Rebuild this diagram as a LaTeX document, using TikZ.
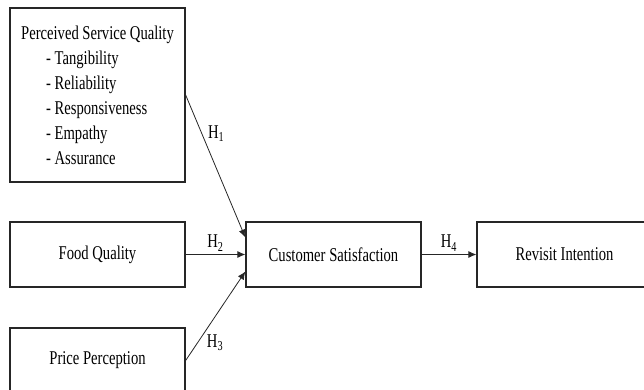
\documentclass[tikz,border=0pt]{standalone}
\usepackage{fontspec}
\setmainfont{Liberation Serif}[FakeStretch=0.75]
\usetikzlibrary{arrows.meta,positioning}

\begin{document}
\begin{tikzpicture}[x=1pt,y=-1pt,
    construct/.style={draw=black!85,line width=1.3pt,minimum width=175pt,minimum height=65pt,inner sep=0pt,font=\fontsize{19.5}{25}\selectfont},
    path/.style={-{Latex[length=8pt,width=7pt]},line width=0.8pt,draw=black!85},
    hyp/.style={font=\fontsize{19.5}{25}\selectfont,inner sep=1pt}]
    \useasboundingbox (0,0) rectangle (644,389);
    %Perceived service quality
    \node[construct,minimum height=174pt,align=left] (psq) at (97.5,95) {Perceived Service Quality\\
        \hspace*{25pt}- Tangibility\\
        \hspace*{25pt}- Reliability\\
        \hspace*{25pt}- Responsiveness\\
        \hspace*{25pt}- Empathy\\
        \hspace*{25pt}- Assurance};
    %Food quality
    \node[construct] (fq) at (97.5,254.5) {Food Quality};
    %Price perception
    \node[construct] (pp) at (97.5,360.5) {Price Perception};
    %Customer satisfaction
    \node[construct] (cs) at (333.5,254.5) {Customer Satisfaction};
    %Revisit intention
    \node[construct] (ri) at (564.5,254.5) {Revisit Intention};
    %Arrows
    \draw[path] (psq.east) -- ([yshift=17pt]cs.west) node[hyp,pos=0.27,right=5pt] {H\textsubscript{1}};
    \draw[path] (fq.east) -- (cs.west) node[hyp,midway,above=2pt] {H\textsubscript{2}};
    \draw[path] (pp.east) -- ([yshift=-17pt]cs.west) node[hyp,pos=0.2,right=8pt] {H\textsubscript{3}};
    \draw[path] (cs.east) -- (ri.west) node[hyp,midway,above=2pt] {H\textsubscript{4}};
\end{tikzpicture}
\end{document}
